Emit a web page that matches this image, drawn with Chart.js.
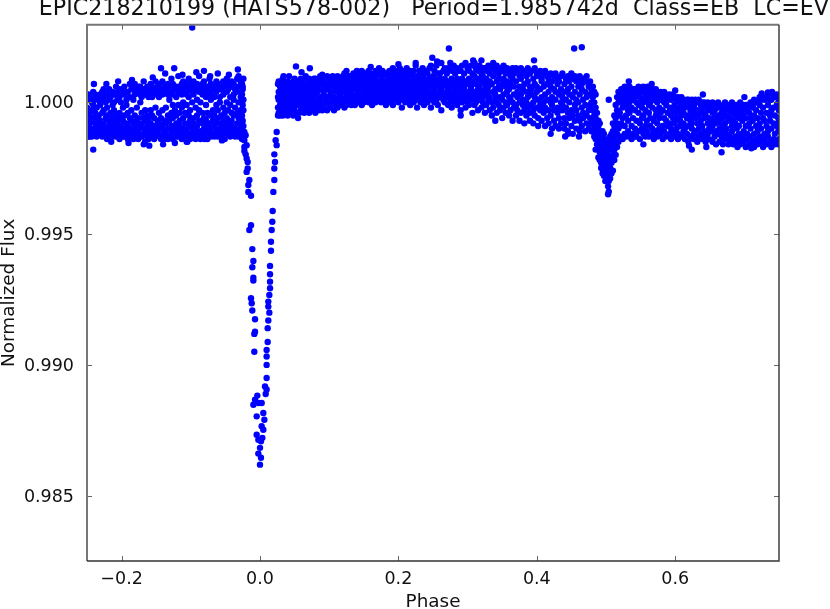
<!DOCTYPE html>
<html>
<head>
<meta charset="utf-8">
<style>body{margin:0;background:#fff}canvas{display:block}</style>
<script src="https://cdn.jsdelivr.net/npm/chart.js@4"></script>
</head>
<body>
<canvas id="phase-chart" width="830" height="609"></canvas>
<script>
// tick labels and axis limits
var xTickValues = [-0.2, 0, 0.2, 0.4, 0.6];
var yTickValues = [0.985, 0.99, 0.995, 1];
var xLimits = [-0.25, 0.75];
var yLimits = [0.98253, 1.00296];

// eclipse points read directly, phase and flux
var primaryPhase = [-.0226,-.0207,-.0226,-.0193,-.0226,-.0226,-.0207,-.0193,-.0178,-.0178,-.0193,-.0154,-.0169,-.0169,-.013,-.013,-.0154,-.0111,-.0111,-.012,-.0096,-.013,-.0096,-.0096,-.0111,-.0072,-.0072,-.0082,-.0082,
  -.0039,-.0072,-.0096,-.0024,-.0048,.0024,.0048,.0063,.0024,.0048,-.0048,-.0024,.0014,.0034,0,-.0024,.0014,0,
  .0241,.0226,.0241,.0207,.0217,.0207,.0207,.0193,.0183,.0178,.0169,.0159,.0159,.0145,.0145,.0145,.0145,.0135,.012,.012,.0135,.012,.0111,.0111,.0096,.0096,.0096,.0096,.0096,.0072,.0082];
var primaryFlux = [.99887,.99875,.99856,.99837,.9983,.99815,.99802,.99786,.99773,.99748,.99735,.99704,.99685,.99659,.99644,.99532,.99514,.99441,.99372,.99235,.99396,.99254,.99332,.99321,.99207,.99174,.99126,.99118,.99050,
  .98883,.98867,.98848,.98855,.98804,.98855,.98817,.98791,.98766,.98753,.98734,.98715,.98709,.98722,.98684,.98662,.98646,.9862,
  .99887,.99856,.99837,.99802,.99773,.99748,.99704,.99659,.99586,.99545,.99514,.99469,.99435,.99377,.99345,.99317,.99292,.99266,.99241,.99222,.99199,.99169,.9914,.99087,.99032,.98906,.99057,.99,.9895,.98918,.98889];

// flux per phase, rows are [phase, then flux in units of 1e-4 away from 1.0]
var leftBand = [
[-.25,-12,-7,-2,2,-10],[-.248,-9,-13,1,-4,3],[-.246,-5,-11,2,-13,-8],[-.243,-13,-3,-7,1,0],[-.241,-10,-12,-1,4,-6],
[-.238,-12,-8,1,-4,3],[-.236,-13,-6,-2,2,-10],[-.233,-9,-12,2,-5,-11],[-.231,-7,-12,-1,3,0],[-.228,-13,-10,-4,4,1],
[-.226,-8,-12,-3,2,5],[-.223,-13,-6,-10,0,3],[-.221,-11,-14,-5,3,-2],[-.218,-9,-7,-13,1,5],[-.216,-12,-4,2,-8,-13],
[-.213,-10,-6,4,-1,-13],[-.211,-12,-8,-3,3,0],[-.208,-11,-13,-5,3,6],[-.206,-7,-12,1,-9,4],[-.203,-13,-14,-4,2,5],
[-.201,-9,-11,-6,4,0],[-.198,-12,-7,-2,5,-13],[-.196,-10,-13,3,-5,6],[-.193,-12,-8,-1,4,1],[-.191,-14,-9,-4,4,-11],
[-.188,-13,-6,2,7,-10],[-.186,-11,-12,-3,5,-7],[-.183,-8,-12,1,5,-14],[-.181,-13,-10,-5,3,7],[-.178,-12,-7,-2,5,-9],
[-.176,-14,-11,-6,4,6],[-.173,-9,-13,0,6,3],[-.171,-13,-8,-4,2,5],[-.168,-12,-10,-6,5,8],[-.166,-15,-7,-3,3,-11],
[-.163,-13,-9,5,6,-5],[-.161,-11,-14,-7,2,4],[-.158,-8,-13,-3,4,7],[-.156,-12,-10,-5,6,2],[-.153,-14,-9,-6,3,5],
[-.151,-13,-11,-2,5,8],[-.148,-10,-12,-7,4,6],[-.146,-12,-8,-4,2,7],[-.143,-14,-6,-10,5,4],[-.141,-13,-9,-3,3,8],
[-.138,-11,-14,-7,6,4],[-.136,-8,-12,-2,5,6],[-.133,-14,-10,-5,3,7],[-.131,-13,-7,1,6,4],[-.128,-11,-9,-4,4,9],
[-.126,-14,-6,-1,7,3],[-.123,-12,-10,-3,5,6],[-.121,-13,-8,-5,2,6],[-.118,-13,-11,-1,4,10],[-.116,-9,-7,-4,6,5],
[-.113,-14,-12,-2,3,7],[-.111,-10,-6,0,5,8],[-.108,-13,-8,-4,4,7],[-.106,-15,-11,-1,6,3],[-.103,-12,-9,-5,2,9],
[-.101,-14,-7,-3,5,7],[-.098,-10,-12,0,4,6],[-.096,-13,-6,-8,3,8],[-.093,-14,-11,-2,6,5],[-.091,-9,-12,-5,1,7],
[-.088,-13,-7,-3,4,10],[-.086,-11,-14,0,6,5],[-.083,-8,-12,-4,3,7],[-.081,-13,-10,-6,5,8],[-.078,-11,-7,-1,2,6],
[-.076,-14,-9,-4,6,4],[-.073,-12,-5,-8,4,9],[-.071,-10,-13,1,3,7],[-.068,-12,-7,-3,5,6],[-.066,-13,-9,-5,6,2],
[-.063,-11,-8,-1,4,8],[-.061,-13,-6,-3,7,5],[-.058,-10,-12,0,2,6],[-.056,-13,-8,-5,5,7],[-.053,-11,-7,-2,3,8],
[-.051,-14,-9,-4,6,4],[-.048,-12,-6,0,4,9],[-.046,-10,-8,-3,5,7],[-.043,-13,-11,-1,2,6],[-.041,-9,-7,-4,6,8],
[-.038,-12,-5,1,3,7],[-.036,-13,-10,-2,5,6],[-.033,-11,-8,-4,4,9],[-.031,-13,-6,0,6,10],[-.028,-12,-9,-3,2,8],
[-.026,-14,-10,-5,3,7],[-.025,-12,-7,-1,5,6],[-.024,-13,-9,-3,1,9]
];
var plateau = [
[.026,-5,-2,2,7],[.027,-4,1,4,8],[.029,-5,-1,3,6],[.031,-3,0,5,8],[.033,-5,2,4,9],[.035,-4,-1,6,7],[.037,-2,1,3,6],
[.04,-5,0,5,8],[.042,-3,2,6,10],[.044,-4,-1,4,7],[.046,-2,1,3,6],[.048,-5,0,6,8],[.05,-3,2,5,9],[.052,-4,-1,3,7],
[.055,-1,1,4,8],[.057,-4,0,6,5],[.059,-3,2,5,9],[.062,-2,-1,3,7],[.064,-4,1,6,9],[.066,-3,0,4,10],[.069,-1,2,5,7],
[.071,-4,1,3,9],[.073,-2,0,6,8],[.076,-3,2,4,7],[.078,-1,1,7,9],[.08,-4,3,5,9],[.083,-2,0,4,8],[.085,-3,1,6,7],
[.087,-1,2,5,10],[.09,-3,0,7,9],[.092,-2,3,4,8],[.095,0,1,6,7],[.097,-3,2,5,10],[.1,-1,0,7,9],[.102,-2,3,4,8],
[.105,0,1,6,10],[.107,-3,2,8,9],[.11,-1,4,5,9],[.112,-2,1,7,10],[.115,0,3,6,9],[.117,-1,2,5,8],[.12,1,4,8,10],
[.122,-2,0,6,11],[.125,-1,3,7,9],[.127,0,2,5,10],[.13,1,4,8,10],[.132,-1,3,6,9],[.135,0,2,7,11],[.137,-1,5,9,10],
[.14,1,3,6,12],[.142,0,4,8,10],[.145,2,5,7,10],[.147,-1,1,9,12],[.15,0,3,6,10],[.152,1,4,8,11],[.155,2,5,7,10],
[.157,0,3,9,12],[.16,1,4,6,11],[.162,-1,2,8,10],[.165,1,5,7,10],[.167,0,3,9,12],[.17,2,4,6,11],[.172,1,5,8,13],
[.175,0,3,7,10],[.177,2,4,9,12],[.18,1,6,8,11],[.182,-1,3,5,11],[.185,2,4,7,10],[.187,0,6,9,12],[.19,1,3,8,11],
[.192,-1,5,7,13],[.195,2,4,9,10],[.197,1,6,8,12],[.2,0,3,5,11],[.202,2,7,9,13],[.205,-2,4,6,10],[.207,1,3,8,12],
[.21,0,5,7,11],[.212,2,4,9,13],[.215,1,6,8,10],[.217,-1,3,5,12],[.22,2,4,7,11],[.222,0,6,9,12],[.225,1,3,8,14],
[.227,-2,5,7,10],[.23,2,4,9,12],[.232,0,6,8,11],[.235,1,3,5,13],[.237,-1,7,9,11],[.24,2,4,6,12],[.242,0,5,8,11],
[.245,1,3,9,13],[.247,-2,6,7,14],[.25,2,4,8,10],[.252,0,5,9,12],[.255,1,3,6,14],[.257,-1,7,8,11],[.26,2,4,9,11],
[.262,-3,5,6,15],[.265,1,3,8,12],[.267,0,7,9,13],[.27,2,4,6,11],[.272,-1,5,8,13],[.275,1,3,7,15],[.277,-2,6,9,12],
[.28,0,4,8,14],[.282,2,5,7,11],[.285,-1,3,9,13],[.287,1,6,8,12],[.29,-3,4,7,12],[.292,0,2,9,14],[.295,1,5,6,11],
[.297,-2,3,8,15],[.3,0,4,7,13],[.302,-1,2,9,12],[.305,1,5,6,14],[.307,-4,3,8,11],[.31,-1,4,10,15],[.312,0,2,7,13],
[.315,-3,5,9,12],[.317,1,3,6,14],[.32,-2,4,8,11],[.322,0,2,10,13],[.325,-4,5,7,13],[.327,-1,3,9,12],[.33,1,4,6,14],
[.332,-3,2,8,11],[.335,-5,0,7,13],[.337,-2,4,10,15],[.34,1,3,5,12],[.342,-4,0,8,14],[.345,-1,6,9,11],[.347,-3,2,5,13],
[.35,-6,1,7,12],[.352,-2,3,9,14],[.355,-4,0,6,11],[.357,-1,4,8,13],[.36,-5,2,5,12],[.362,-3,1,7,10],[.365,-7,0,9,13],
[.367,-2,3,6,11],[.37,-5,-1,8,13],[.372,-3,2,4,12],[.375,-7,0,6,10],[.377,-4,3,9,13],[.38,-1,1,5,11],[.382,-8,-3,7,12],
[.385,-5,0,4,10],[.387,-2,2,8,13],[.39,-7,-4,6,11],[.392,-1,3,5,12],[.395,-8,-3,0,9],[.397,-5,2,7,13],[.4,-2,4,6,11],
[.402,-9,-6,1,10],[.405,-3,-1,5,12],[.407,-7,2,8,9],[.41,-4,0,6,11],[.412,-9,-2,3,12],[.415,-6,1,7,10],[.417,-8,-3,4,9],
[.42,-5,0,6,11],[.422,-10,-1,2,8],[.425,-7,-3,5,10],[.427,-9,1,4,11],[.43,-4,-2,7,9],[.432,-10,-6,3,8],[.435,-8,0,5,10],
[.437,-3,-1,2,11],[.44,-10,-6,4,7],[.442,-8,-2,1,9],[.445,-11,-4,5,10],[.447,-6,0,3,8],[.45,-9,-3,6,11],[.452,-12,-5,2,9],
[.455,-7,-1,4,10],[.457,-10,-3,1,8],[.46,-5,0,6,9],[.462,-11,-7,3,10],[.465,-9,-2,5,7],[.467,-6,-4,1,9],[.47,-11,-1,4,8],
[.472,-8,-5,2,10],[.475,-10,-3,6,7],[.477,-6,-1,3,8],[.479,-11,-8,0,5]
];
var secondaryDip = [
[.481,-11,-7,-3,2,6],[.483,-13,-9,-5,0,4],[.485,-18,-14,-10,-6,-2,3],[.487,-16,-12,-8,-4,-11],[.489,-21,-17,-13,-9,-7],
[.491,-19,-22,-15,-11,-8],[.493,-25,-20,-16,-12,-23],[.495,-27,-22,-18,-14,-11],[.497,-24,-28,-19,-15,-12],[.499,-30,-26,-21,-17,-14],
[.501,-28,-23,-19,-15,-25],[.503,-35,-32,-29,-24,-20,-16],[.504,-34,-27,-22,-18,-30],[.506,-29,-25,-21,-16,-13],[.508,-27,-23,-18,-14,-12],
[.51,-26,-20,-16,-11,-8],[.512,-22,-18,-13,-9,-5],[.514,-20,-15,-10,-6,-1],[.516,-17,-12,-8,-3,2],[.518,-15,-10,-5,0,4],[.52,-14,-9,-4,1,3]
];
var rightTail = [
[.522,-13,-8,0,3,5],[.524,-14,-6,-2,3,2],[.527,-12,-9,1,4,6],[.529,-13,-5,-1,5,3],[.532,-11,-7,2,6,-3],[.534,-13,-4,0,4,6],
[.537,-9,-14,-2,3,5],[.539,-12,-6,1,5,4],[.542,-10,-13,-3,2,5],[.544,-13,-7,0,3,4],[.547,-11,-4,-1,3,6],[.549,-14,-8,2,5],
[.552,-10,-6,-2,1,4],[.554,-12,-5,0,4,6],[.557,-13,-9,-3,3],[.559,-11,-7,1,5,3],[.562,-13,-4,-1,2],[.564,-9,-6,0,5,4],
[.567,-12,-10,-2,3,5],[.569,-14,-7,1,4],[.572,-11,-5,-3,2,5],[.574,-13,-8,0,3],[.577,-10,-6,-2,3],[.579,-12,-4,1,4],
[.582,-14,-9,-3,2],[.584,-11,-6,0,4],[.587,-13,-7,-1,3],[.589,-9,-4,1,2],[.592,-12,-8,-2,3],[.594,-14,-10,-5,1],[.597,-11,-6,-3,3],
[.599,-13,-8,-1,2],[.602,-10,-4,-6,1],[.604,-14,-12,-2,2],[.607,-9,-7,-3,0],[.609,-13,-5,-1,2],[.612,-11,-8,-4,1],[.614,-14,-10,-2,0],
[.617,-12,-6,-5,1],[.619,-15,-9,-1,1],[.622,-13,-7,-3,0],[.624,-10,-5,-8,1],[.627,-14,-12,-2,-1],[.629,-11,-6,-4,1],[.632,-15,-8,-3,0],
[.634,-13,-10,-5,1],[.637,-12,-7,-1,-3],[.639,-14,-9,-4,0],[.642,-11,-6,-2,0],[.644,-15,-13,-5,-1],[.647,-12,-8,-3,0],[.649,-14,-10,-6,-1],
[.652,-11,-7,-2,-1],[.654,-15,-9,-4,0],[.657,-13,-6,-3,-1],[.659,-16,-11,-8,-1],[.662,-12,-5,-2,0],[.664,-15,-10,-7,-1],[.667,-13,-9,-4,-2],
[.669,-16,-11,-6,-2],[.672,-14,-8,-3,0],[.674,-12,-10,-5,-1],[.677,-16,-7,-2,-1],[.679,-15,-13,-6,-3],[.682,-11,-9,-4,0],[.684,-16,-14,-7,-2],
[.687,-13,-8,-5,-1],[.689,-15,-10,-3,-1],[.692,-12,-9,-6,-2],[.694,-16,-14,-4,0],[.697,-13,-7,-2,-3],[.699,-15,-11,-5,-1],[.702,-17,-9,-6,-1],
[.704,-14,-12,-3,-1],[.707,-16,-8,-4,-1],[.709,-13,-10,-6,0],[.712,-15,-7,-2,-1],[.714,-17,-12,-5,1],[.717,-14,-9,-3,0],[.719,-16,-11,-6,0],
[.722,-13,-8,-1,2],[.724,-15,-10,-4,1],[.727,-17,-6,-2,2],[.729,-14,-12,-7,1],[.732,-16,-9,-4,2],[.734,-13,-11,-1,3],[.737,-15,-7,-5,1],
[.739,-17,-10,-3,1],[.742,-14,-8,-2,3],[.744,-16,-12,-5,2],[.747,-15,-9,-1,3],[.749,-16,-11,-6,0],[.75,-14,-7,-3,2]
];
// stray points above and below the band
var strayPhase = [-.098,-.241,-.143,-.124,-.24,-.081,-.061,-.032,-.168,-.123,.052,.055,.072,.273,.249,.256,.308,.32,.396,.454,.465,.441,.461,.504,.533,.566,.725,.734,.624,.667,.554,
  -.222,-.205,-.185,-.155,-.137,-.112,-.092,-.072,-.045,-.215,-.19,-.16,-.14,-.105,-.08,-.055,.034,.06,.09,.125,.16,.2,.225,.29,.34,.42,.445,.56,.6,.64,.7,.74,.62,.645,.69,.71];
var strayFlux = [1.00285,.9982,1.0013,1.0013,1.0007,1.0012,1.0011,1.00125,.9984,.99845,1.00137,.9994,1.0013,1.00205,1.0017,1.00156,1.0016,1.0016,1.0016,1.00205,1.0021,.9987,.9987,1.0001,1.0008,1.0007,1.00034,1.00038,.9982,.9981,.9984,
  1.0007,1.0008,1.00085,1.00095,1.0011,1.00105,1.00115,1.001,1.00105,.9985,.99845,.99835,.9984,.9985,.9986,.99855,1.001,1.00115,1.00105,1.0012,1.00135,1.00145,1.0015,.9995,.9993,.9988,.9988,1.0006,1.00045,1.0003,1.0002,1.0004,.99835,.9983,.9983,.99825];

var titleText = 'EPIC218210199 (HATS578-002)   Period=1.985742d  Class=EB  LC=EV';

function buildPoints() {
  var points = [];
  [leftBand, plateau, secondaryDip, rightTail].forEach(function(section) {
    section.forEach(function(row) {
      for (var i = 1; i < row.length; i++) {
        points.push({x: row[0], y: 1 + row[i] / 10000});
      }
    });
  });
  primaryPhase.forEach(function(p, i) { points.push({x: p, y: primaryFlux[i]}); });
  strayPhase.forEach(function(p, i) { points.push({x: p, y: strayFlux[i]}); });
  return points;
}

// matplotlib style frame with ticks pointing inwards on all four sides
var frameTicks = {
  id: 'frameTicks',
  afterDatasetsDraw: function(chart) {
    var a = chart.chartArea, ctx = chart.ctx, len = 5;
    ctx.save();
    ctx.strokeStyle = '#666';
    ctx.lineWidth = 1;
    ctx.beginPath();
    xTickValues.forEach(function(v) {
      var x = Math.round(chart.scales.x.getPixelForValue(v)) + 0.5;
      ctx.moveTo(x, a.bottom); ctx.lineTo(x, a.bottom - len);
      ctx.moveTo(x, a.top); ctx.lineTo(x, a.top + len);
    });
    yTickValues.forEach(function(v) {
      var y = Math.round(chart.scales.y.getPixelForValue(v)) + 0.5;
      ctx.moveTo(a.left, y); ctx.lineTo(a.left + len, y);
      ctx.moveTo(a.right, y); ctx.lineTo(a.right - len, y);
    });
    ctx.stroke();
    // left and top edges look softer than right and bottom in the picture
    ctx.strokeStyle = '#777';
    ctx.lineWidth = 2;
    ctx.beginPath();
    ctx.moveTo(a.left, a.bottom); ctx.lineTo(a.left, a.top); ctx.lineTo(a.right, a.top);
    ctx.stroke();
    ctx.strokeStyle = '#333';
    ctx.lineWidth = 1.4;
    ctx.beginPath();
    ctx.moveTo(a.right, a.top); ctx.lineTo(a.right, a.bottom); ctx.lineTo(a.left, a.bottom);
    ctx.stroke();
    ctx.restore();
  }
};

function phaseChart() {
  var tickFont = {family: '"DejaVu Sans"', size: 17.5};
  var labelFont = {family: '"DejaVu Sans"', size: 18.4, lineHeight: 1};
  new Chart(document.getElementById('phase-chart'), {
    type: 'scatter',
    plugins: [frameTicks],
    data: {
      datasets: [{
        data: buildPoints(),
        backgroundColor: '#0000ff',
        borderWidth: 0,
        pointRadius: 3.2,
        clip: 0
      }]
    },
    options: {
      responsive: false,
      animation: false,
      layout: {padding: {top: 0, right: 1, bottom: 0, left: 0}},
      plugins: {
        legend: {display: false},
        tooltip: {enabled: false},
        title: {
          display: true,
          align: 'end',
          text: titleText,
          color: '#111',
          font: {family: '"DejaVu Sans"', size: 22.2, weight: 'normal'},
          padding: {top: -4, bottom: 2}
        }
      },
      scales: {
        x: {
          type: 'linear',
          min: xLimits[0],
          max: xLimits[1],
          grid: {display: false},
          border: {display: false},
          afterBuildTicks: function(scale) {
            scale.ticks = xTickValues.map(function(v) { return {value: v}; });
          },
          afterFit: function(scale) { scale.height = 48; },
          ticks: {
            color: '#111', font: tickFont, padding: 0, maxRotation: 0,
            callback: function(v) { return (v < 0 ? '\u2212' : '') + Math.abs(v).toFixed(1); }
          },
          title: {display: true, text: 'Phase', color: '#111', font: labelFont, padding: {top: 0, bottom: -2.5}}
        },
        y: {
          type: 'linear',
          min: yLimits[0],
          max: yLimits[1],
          grid: {display: false},
          border: {display: false},
          afterBuildTicks: function(scale) {
            scale.ticks = yTickValues.map(function(v) { return {value: v}; });
          },
          afterFit: function(scale) { scale.width = 87; },
          ticks: {
            color: '#111', font: tickFont, padding: 5, labelOffset: 1.5,
            callback: function(v) { return v.toFixed(3); }
          },
          title: {display: true, text: 'Normalized Flux', color: '#111', font: labelFont, padding: 0}
        },
        // empty axis that only reserves the margin right of the plot
        rightMargin: {
          type: 'linear',
          axis: 'y',
          position: 'right',
          grid: {display: false},
          border: {display: false},
          ticks: {display: false},
          afterFit: function(scale) { scale.width = 50; }
        }
      }
    }
  });
}

phaseChart();
</script>
</body>
</html>
